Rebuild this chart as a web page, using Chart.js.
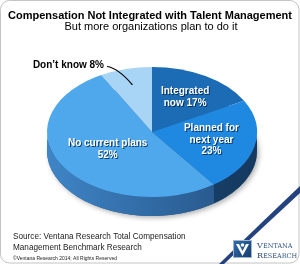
<!DOCTYPE html>
<html lang="en">
<head>
<meta charset="UTF-8">
<title>Compensation Not Integrated with Talent Management</title>
<script src="https://cdn.jsdelivr.net/npm/chart.js"></script>
<style>
  html, body { margin: 0; padding: 0; background: #fff; }
  #wrap { width: 300px; height: 264px; }
</style>
</head>
<body>
<div id="wrap"><canvas id="pie" width="300" height="264"></canvas></div>
<script>
  const categories = ["Integrated now", "Planned for next year", "No current plans", "Don't know"];
  const shares = [17, 23, 52, 8];
  const sliceText = [["Integrated", "now 17%"], ["Planned for", "next year", "23%"], ["No current plans", "52%"], ["Don\u2019t know 8%"]];
  const titleText = "Compensation Not Integrated with Talent Management";
  const subtitleText = "But more organizations plan to do it";
  const sourceLines = ["Source: Ventana Research Total Compensation", "Management Benchmark Research"];
  const copyrightText = "\u00a9Ventana Research 2014; All Rights Reserved";

  const topColors = ["#1b6cb4", "#1f89e2", "#4fa8ec", "#a8d4f6"];
  const sideColors = [["#174f86", "#123d68"], ["#1f4f82", "#15395f"], ["#3f85c7", "#234f80"], ["#7fb0dc", "#5d8fbf"]];

  // pie is squashed into an ellipse: centre y and vertical radius, plus side depth
  const PIE_CY = 132, PIE_RY = 65, PIE_DEPTH = 19;

  function roundRect(ctx, x, y, w, h, r) {
    ctx.beginPath();
    ctx.moveTo(x + r, y);
    ctx.arcTo(x + w, y, x + w, y + h, r);
    ctx.arcTo(x + w, y + h, x, y + h, r);
    ctx.arcTo(x, y + h, x, y, r);
    ctx.arcTo(x, y, x + w, y, r);
    ctx.closePath();
  }

  const framePlugin = {
    id: "frame",
    beforeDraw(chart) {
      const ctx = chart.ctx;
      ctx.save();
      ctx.fillStyle = "#fff";
      ctx.fillRect(0, 0, chart.width, chart.height);
      roundRect(ctx, 0.5, 0.5, chart.width - 1.5, chart.height - 1.5, 9);
      ctx.strokeStyle = "#c4c4c4";
      ctx.lineWidth = 1;
      ctx.stroke();

      // diagonal stripe bottom right
      ctx.beginPath();
      ctx.moveTo(219, 264);
      ctx.quadraticCurveTo(262, 222, 300, 186);
      ctx.lineTo(300, 193);
      ctx.quadraticCurveTo(262, 228, 224, 264);
      ctx.closePath();
      ctx.fillStyle = "#23427e";
      ctx.fill();

      // logo icon
      const g = ctx.createLinearGradient(233, 240, 253, 258);
      g.addColorStop(0, "#2f6fae");
      g.addColorStop(1, "#163a6a");
      ctx.fillStyle = g;
      ctx.fillRect(233, 240, 19, 18);
      ctx.strokeStyle = "#9fb6d0";
      ctx.strokeRect(233.5, 240.5, 18, 17);
      ctx.fillStyle = "#fff";
      ctx.beginPath();
      ctx.moveTo(236, 244);
      ctx.lineTo(242.5, 256);
      ctx.lineTo(249, 244);
      ctx.lineTo(246, 244);
      ctx.lineTo(242.5, 251);
      ctx.lineTo(239, 244);
      ctx.closePath();
      ctx.fill();
      ctx.beginPath();
      ctx.arc(242.5, 245, 1.8, 0, Math.PI * 2);
      ctx.fill();

      ctx.fillStyle = "#2b4f7f";
      ctx.textBaseline = "middle";
      ctx.textAlign = "left";
      ctx.font = "8px 'DejaVu Serif'";
      ctx.fillText("V", 257, 246);
      ctx.font = "6.5px 'DejaVu Serif'";
      ctx.fillText("ENTANA", 263, 246.5);
      ctx.font = "8px 'DejaVu Serif'";
      ctx.fillText("R", 257, 255.5);
      ctx.font = "6.5px 'DejaVu Serif'";
      ctx.fillText("ESEARCH", 263, 256);
      ctx.restore();
    }
  };

  const pie3dPlugin = {
    id: "pie3d",
    beforeDatasetsDraw(chart) {
      const ctx = chart.ctx;
      const arcs = chart.getDatasetMeta(0).data;
      const cx = arcs[0].x, r = arcs[0].outerRadius;

      ctx.save();
      // soft shadow under the pie
      ctx.shadowColor = "rgba(0,0,0,0.3)";
      ctx.shadowBlur = 5;
      ctx.shadowOffsetX = 2;
      ctx.shadowOffsetY = 2;
      ctx.beginPath();
      ctx.ellipse(cx, PIE_CY + PIE_DEPTH, r, PIE_RY, 0, 0, Math.PI * 2);
      ctx.fillStyle = "#2a5a8c";
      ctx.fill();
      ctx.restore();

      // side walls, only the front half shows
      arcs.forEach((arc, i) => {
        const a1 = Math.max(arc.startAngle, 0);
        const a2 = Math.min(arc.endAngle, Math.PI);
        if (a1 >= a2) return;
        const grad = ctx.createLinearGradient(cx - r, 0, cx + r, 0);
        grad.addColorStop(0, sideColors[i][0]);
        grad.addColorStop(1, sideColors[i][1]);
        ctx.beginPath();
        ctx.ellipse(cx, PIE_CY, r, PIE_RY, 0, a1, a2);
        ctx.ellipse(cx, PIE_CY + PIE_DEPTH, r, PIE_RY, 0, a2, a1, true);
        ctx.closePath();
        ctx.fillStyle = grad;
        ctx.fill();
      });

      ctx.save();
      ctx.translate(cx, PIE_CY);
      ctx.scale(1, PIE_RY / r);
      ctx.translate(-cx, -arcs[0].y);
    },
    afterDatasetsDraw(chart) {
      chart.ctx.restore();
    }
  };

  const labelPlugin = {
    id: "sliceLabels",
    afterDraw(chart) {
      const ctx = chart.ctx;
      const arcs = chart.getDatasetMeta(0).data;
      const cx = arcs[0].x, r = arcs[0].outerRadius;
      const place = (arc, f) => {
        const m = (arc.startAngle + arc.endAngle) / 2;
        return [cx + Math.cos(m) * r * f, PIE_CY + Math.sin(m) * PIE_RY * f];
      };

      ctx.save();
      ctx.textAlign = "center";
      ctx.textBaseline = "middle";
      ctx.fillStyle = "#000";
      ctx.font = "bold 11px 'Liberation Sans'";
      ctx.fillText(titleText, 150, 16);
      ctx.font = "11px 'Liberation Sans'";
      ctx.fillText(subtitleText, 151, 27);

      const fr = [0.62, 0.58, 0.5];
      ctx.font = "bold 10px 'Liberation Sans'";
      for (let i = 0; i < 3; i++) {
        const [x, y] = place(arcs[i], fr[i]);
        const lines = sliceText[i];
        lines.forEach((t, j) => {
          const ly = y + (j - (lines.length - 1) / 2) * 11.5;
          ctx.fillStyle = "rgba(0,30,70,0.8)";
          ctx.fillText(t, x + 1, ly + 1);
          ctx.fillStyle = "#fff";
          ctx.fillText(t, x, ly);
        });
      }

      // outside label with leader line
      const [lx, ly] = place(arcs[3], 0.75);
      ctx.strokeStyle = "#000";
      ctx.lineWidth = 1.2;
      ctx.beginPath();
      ctx.moveTo(lx, ly);
      ctx.quadraticCurveTo(118, 68, 107, 66.5);
      ctx.stroke();
      ctx.fillStyle = "#000";
      ctx.textAlign = "right";
      ctx.fillText(sliceText[3][0], 104, 65);

      ctx.textAlign = "left";
      ctx.fillStyle = "#222";
      ctx.font = "8.2px 'Liberation Sans'";
      ctx.fillText(sourceLines[0], 13, 237);
      ctx.fillText(sourceLines[1], 13, 248);
      ctx.font = "5px 'Liberation Sans'";
      ctx.fillText(copyrightText, 13, 259);
      ctx.restore();
    }
  };

  new Chart(document.getElementById("pie"), {
    type: "pie",
    data: {
      labels: categories,
      datasets: [{
        data: shares,
        backgroundColor: topColors,
        borderWidth: 0
      }]
    },
    options: {
      responsive: false,
      animation: false,
      layout: { padding: { left: 47, right: 43, top: 30, bottom: 10 } },
      plugins: {
        legend: { display: false },
        tooltip: { enabled: false }
      }
    },
    plugins: [framePlugin, pie3dPlugin, labelPlugin]
  });
</script>
</body>
</html>
